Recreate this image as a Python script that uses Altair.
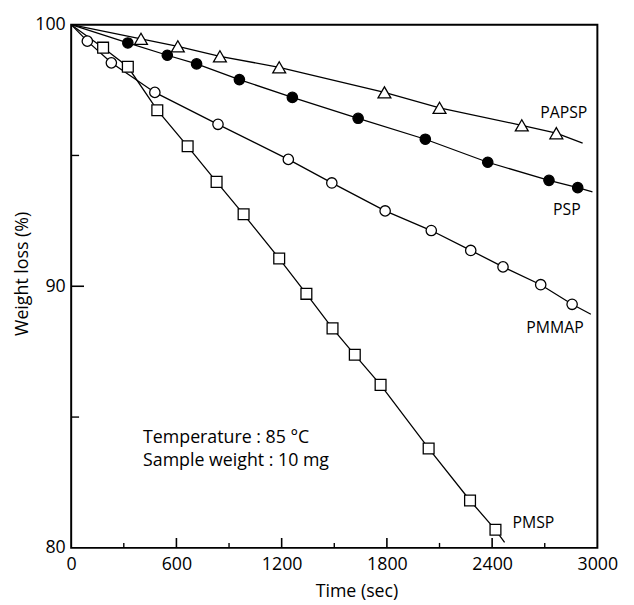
import altair as alt
import pandas as pd

FONT = "Open Sans"

# ---- data ----
papsp_t = [398, 608, 848, 1186, 1786, 2100, 2569, 2766]
papsp_v = [99.46, 99.17, 98.79, 98.37, 97.41, 96.82, 96.15, 95.85]
papsp_end = (2916, 95.47)

psp_t = [323, 548, 715, 959, 1261, 1636, 2019, 2375, 2724, 2888]
psp_v = [99.30, 98.83, 98.50, 97.90, 97.22, 96.42, 95.62, 94.74, 94.05, 93.77]
psp_end = (2972, 93.61)

pmmap_t = [92, 229, 477, 837, 1238, 1486, 1790, 2053, 2278, 2462, 2677, 2856]
pmmap_v = [99.37, 98.54, 97.41, 96.19, 94.85, 93.95, 92.88, 92.13, 91.37, 90.74, 90.06, 89.31]
pmmap_end = (2963, 88.93)

pmsp_t = [182, 323, 491, 664, 829, 983, 1186, 1341, 1490, 1617, 1764, 2038, 2274, 2419]
pmsp_v = [99.12, 98.39, 96.73, 95.35, 93.99, 92.75, 91.06, 89.71, 88.39, 87.38, 86.23, 83.80, 81.81, 80.69]
pmsp_end = (2471, 80.21)

start_point = (0, 100)

series_names = ["PAPSP", "PSP", "PMMAP", "PMSP"]
label_t = [2674, 2747, 2595, 2516]
label_v = [96.63, 92.93, 88.40, 80.93]

note_lines = ["Temperature : 85 °C", "Sample weight : 10 mg"]
note_t = [410, 410]
note_v = [84.21, 83.31]

x_label_values = [0, 600, 1200, 1800, 2400, 3000]
x_major_ticks = [600, 1200, 1800, 2400]
x_minor_ticks = [300, 900, 1500, 2100, 2700]
y_label_values = [80, 90, 100]
y_major_ticks = [90]
y_minor_ticks = [85, 95]

W, H = 533, 530

# ---- scales / axes ----
xs = alt.Scale(domain=[0, 3000], nice=False, zero=False)
ys = alt.Scale(domain=[80, 100], nice=False, zero=False)

x_axis = alt.Axis(values=x_label_values, format="d", ticks=False, domain=False, grid=False,
                  labelFont=FONT, labelFontSize=18, labelPadding=8, labelFlush=False,
                  labelColor="black", labelOverlap=False,
                  title="Time (sec)", titleFont=FONT, titleFontSize=18,
                  titleFontWeight="normal", titleColor="black",
                  titleX=289, titleY=44, titleBaseline="middle", titleAlign="center")
y_axis = alt.Axis(values=y_label_values, format="d", ticks=False, domain=False, grid=False,
                  labelFont=FONT, labelFontSize=18, labelPadding=6, labelFlush=False,
                  labelColor="black", labelOverlap=False,
                  title="Weight loss (%)", titleFont=FONT, titleFontSize=18,
                  titleFontWeight="normal", titleColor="black", titleAngle=270,
                  titleX=-49, titleY=252, titleBaseline="middle", titleAlign="center")

def X(field="t"):
    return alt.X(f"{field}:Q", scale=xs, axis=x_axis)

def Y(field="v"):
    return alt.Y(f"{field}:Q", scale=ys, axis=y_axis)

layers = []

specs = [
    ("PAPSP", papsp_t, papsp_v, papsp_end, "triangle-up", "white", 170),
    ("PSP", psp_t, psp_v, psp_end, "circle", "black", 110),
    ("PMMAP", pmmap_t, pmmap_v, pmmap_end, "circle", "white", 110),
    ("PMSP", pmsp_t, pmsp_v, pmsp_end, "square", "white", 120),
]

for name, ts, vs, end, shape, fill, size in specs:
    line_df = pd.DataFrame({
        "t": [start_point[0]] + ts + [end[0]],
        "v": [start_point[1]] + vs + [end[1]],
    })
    line_df["order"] = range(len(line_df))
    layers.append(
        alt.Chart(line_df).mark_line(color="black", strokeWidth=1.3)
        .encode(x=X(), y=Y(), order="order:Q")
    )
for name, ts, vs, end, shape, fill, size in specs:
    pt_df = pd.DataFrame({"t": ts, "v": vs})
    layers.append(
        alt.Chart(pt_df).mark_point(shape=shape, filled=True, fill=fill, stroke="black",
                                    strokeWidth=1.3, size=size, opacity=1)
        .encode(x=X(), y=Y())
    )

lab_df = pd.DataFrame({"name": series_names, "t": label_t, "v": label_v})
layers.append(
    alt.Chart(lab_df).mark_text(align="left", baseline="middle", font=FONT,
                                fontSize=16, color="black")
    .encode(x=X(), y=Y(), text="name:N")
)

note_df = pd.DataFrame({"txt": note_lines, "t": note_t, "v": note_v})
layers.append(
    alt.Chart(note_df).mark_text(align="left", baseline="middle", font=FONT,
                                 fontSize=18, color="black")
    .encode(x=X(), y=Y(), text="txt:N")
)

# inward ticks
xt_major = pd.DataFrame({"t": x_major_ticks})
xt_minor = pd.DataFrame({"t": x_minor_ticks})
yt_major = pd.DataFrame({"v": y_major_ticks})
yt_minor = pd.DataFrame({"v": y_minor_ticks})
layers.append(alt.Chart(xt_major).mark_rule(color="black", strokeWidth=1.6)
              .encode(x=X(), y=alt.value(H), y2=alt.value(H - 10)))
layers.append(alt.Chart(xt_minor).mark_rule(color="black", strokeWidth=1.4)
              .encode(x=X(), y=alt.value(H), y2=alt.value(H - 5)))
layers.append(alt.Chart(yt_major).mark_rule(color="black", strokeWidth=1.6)
              .encode(y=Y(), x=alt.value(0), x2=alt.value(13)))
layers.append(alt.Chart(yt_minor).mark_rule(color="black", strokeWidth=1.4)
              .encode(y=Y(), x=alt.value(0), x2=alt.value(8)))

chart = alt.layer(*layers).properties(
    width=W, height=H,
    autosize=alt.AutoSizeParams(type="none"),
    padding={"left": 64, "top": 13, "right": 29, "bottom": 54},
    background="white",
).configure_view(stroke="black", strokeWidth=2)

chart.save("out.html", embed_options={"renderer": "svg", "actions": False})
